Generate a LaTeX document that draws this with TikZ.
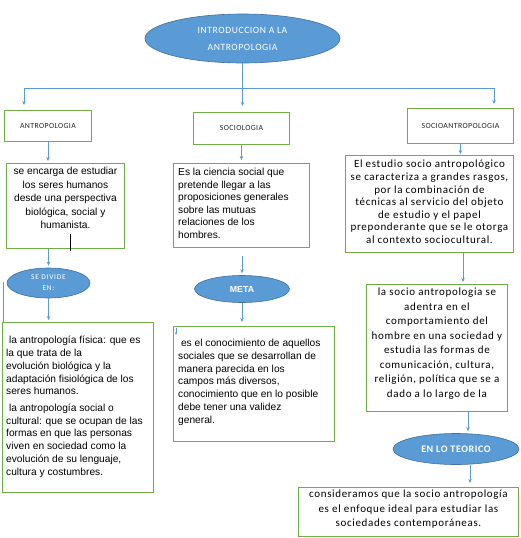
\documentclass[tikz,border=0pt]{standalone}
\usepackage{fontspec}
\setmainfont{Liberation Sans}
\newfontfamily\calfont{Carlito}
\newfontfamily\calsp[LetterSpace=6]{Carlito}
\newfontfamily\calhead[LetterSpace=5]{Carlito}
\newfontfamily\calwide[LetterSpace=10]{Carlito}
\usetikzlibrary{shapes.geometric,arrows.meta}
\definecolor{eblue}{HTML}{5B9BD5}
\definecolor{eborder}{HTML}{41719C}
\definecolor{bgreen}{HTML}{70AD47}
\definecolor{lblue}{HTML}{5B9BD5}
\begin{document}
\begin{tikzpicture}[x=1pt,y=-1pt,
  box/.style={draw=bgreen, line width=0.9pt, inner sep=0pt, anchor=north west, fill=white},
  oval/.style={ellipse, fill=eblue, draw=eborder, line width=0.6pt, inner sep=0pt, text=white, align=center},
  conn/.style={draw=lblue, line width=0.8pt},
  arr/.style={conn, -{Stealth[length=4pt,width=3.5pt]}, shorten >=2pt},
  head/.style={font=\calhead\fontsize{7.8}{9}\selectfont, text=black!85},
  arial/.style={inner sep=0pt, font=\fontsize{10.2}{12.8}\selectfont, text=black},
  calib/.style={inner sep=0pt, font=\calsp\fontsize{11}{12.6}\selectfont, text=black, align=center}
]
\useasboundingbox (0,0) rectangle (520,538);

% title
\node[oval, minimum width=195pt, minimum height=49pt,
      font=\calsp\fontsize{9.6}{17}\selectfont] (title) at (242.5,38.5)
      {INTRODUCCION A LA\\ANTROPOLOGIA};

% header boxes
\node[box, minimum width=87pt, minimum height=31pt, head] (antro) at (4,110) {ANTROPOLOGIA};
\node[box, minimum width=96pt, minimum height=32pt, head] (socio) at (193,112) {SOCIOLOGIA};
\node[box, minimum width=106pt, minimum height=35pt, head] (sa) at (407,108) {SOCIOANTROPOLOGIA};

% tree connectors
\coordinate (hl) at (24,88);
\coordinate (hr) at (494,88);
\coordinate (hm) at (title.south |- hl);
\draw[conn] (title.south) -- (hm);
\draw[conn] (hl) -- (hr);
\draw[arr, shorten >=5pt] (hl) -- (hl |- antro.north);
\draw[arr, shorten >=6pt] (hm) -- (hm |- socio.north);
\draw[arr, shorten >=4pt] (hr) -- (hr |- sa.north);

% antropologia column
\node[box, minimum width=118pt, minimum height=85pt] (d1) at (6,163) {};
\node[arial, anchor=north, align=center, font=\fontsize{10.2}{13.5}\selectfont] (d1t) at ([yshift=-4pt]d1.north)
  {se encarga de estudiar\\los seres humanos\\desde una perspectiva\\biológica, social y\\humanista.};
\draw[black, line width=0.8pt] ([xshift=5pt,yshift=15pt]d1.south) -- ([xshift=5pt,yshift=-2pt]d1.south);
\draw[arr] (antro.south -| 48,0) -- (d1.north -| 48,0);

\node[oval, minimum width=83pt, minimum height=30pt,
      font=\calwide\fontsize{7.4}{11}\selectfont] (divide) at (48.5,283) {SE DIVIDE\\EN:};
\draw[arr] (d1.south -| divide.north) -- (divide.north);

\node[box, minimum width=151pt, minimum height=170pt] (dl) at (2,322) {};
\draw[bgreen, line width=0.9pt] ([xshift=1pt]dl.north west) -- ++(0,-40);
\node[arial, anchor=north west, align=left] (dlt) at ([xshift=4pt,yshift=-14pt]dl.north west)
  {\ la antropología física: que es\\la que trata de la\\evolución biológica y la\\adaptación fisiológica de los\\seres humanos.\\[3.5pt]
   \ la antropología social o\\cultural: que se ocupan de las\\formas en que las personas\\viven en sociedad como la\\evolución de su lenguaje,\\cultura y costumbres.};
\draw[arr] (divide.south) -- (divide.south |- dl.north);

% sociologia column
\node[box, minimum width=136pt, minimum height=84pt] (d2) at (173,163) {};
\node[arial, anchor=north west, align=left, font=\fontsize{10.2}{12.6}\selectfont] (d2t) at ([xshift=5pt,yshift=-5pt]d2.north west)
  {Es la ciencia social que\\pretende llegar a las\\proposiciones generales\\sobre las mutuas\\relaciones de los\\hombres.};
\draw[arr, shorten >=3pt] (socio.south) -- (socio.south |- d2.north);

\node[oval, minimum width=95pt, minimum height=27pt,
      font=\bfseries\fontsize{8.8}{10}\selectfont] (meta) at (242,289) {META};
\draw[arr] ([yshift=-8pt]d2.south -| meta.north) -- (meta.north);

\node[box, minimum width=161pt, minimum height=115pt] (d3) at (173,326) {};
\node[arial, anchor=north west, align=left] (d3t) at ([xshift=5pt,yshift=-13pt]d3.north west)
  {\ es el conocimiento de aquellos\\sociales que se desarrollan de\\manera parecida en los\\campos más diversos,\\conocimiento que en lo posible\\debe tener una validez\\general.};
\draw[arr, shorten >=4pt] (meta.south) -- (meta.south |- d3.north);
\draw[arr, line width=0.6pt, -{Stealth[length=3pt,width=2.5pt]}] ([xshift=3pt,yshift=-2pt]d3.north west) -- ++(0,9);

% socioantropologia column
\node[box, minimum width=168pt, minimum height=97pt] (d4) at (345,155) {};
\node[calib, anchor=north, font=\calsp\fontsize{11}{12.6}\selectfont] (d4t) at ([yshift=-5pt]d4.north)
  {El estudio socio antropológico\\se caracteriza a grandes rasgos,\\por la combinación de\\técnicas al servicio del objeto\\de estudio y el papel\\preponderante que se le otorga\\al contexto sociocultural.};
\draw[arr, shorten >=1pt] (sa.south) -- (sa.south |- d4.north);

\node[box, minimum width=141pt, minimum height=127pt] (d5) at (366,284) {};
\node[calib, anchor=north, font=\calsp\fontsize{11}{14.5}\selectfont] (d5t) at ([yshift=-4pt]d5.north)
  {la socio antropologia se\\adentra en el\\comportamiento del\\hombre en una sociedad y\\estudia las formas de\\comunicación, cultura,\\religión, política que se a\\dado a lo largo de la};
\draw[arr] (d4.south -| 463,0) -- (d5.north -| 463,0);

\node[oval, minimum width=126pt, minimum height=31pt,
      font=\calsp\bfseries\fontsize{10}{11}\selectfont] (teor) at (456,449) {EN LO TEORICO};
\draw[arr] (d5.south -| 468,0) -- (teor.north -| 468,0);

\node[box, minimum width=220pt, minimum height=49pt] (d6) at (298,487) {};
\node[calib, anchor=north, font=\calsp\fontsize{11}{14.5}\selectfont] (d6t) at ([yshift=-3pt]d6.north)
  {consideramos que la socio antropología\\es el enfoque ideal para estudiar las\\sociedades contemporáneas.};
\draw[arr, shorten >=4pt] (teor.south -| 470,0) -- (d6.north -| 470,0);
\end{tikzpicture}
\end{document}
